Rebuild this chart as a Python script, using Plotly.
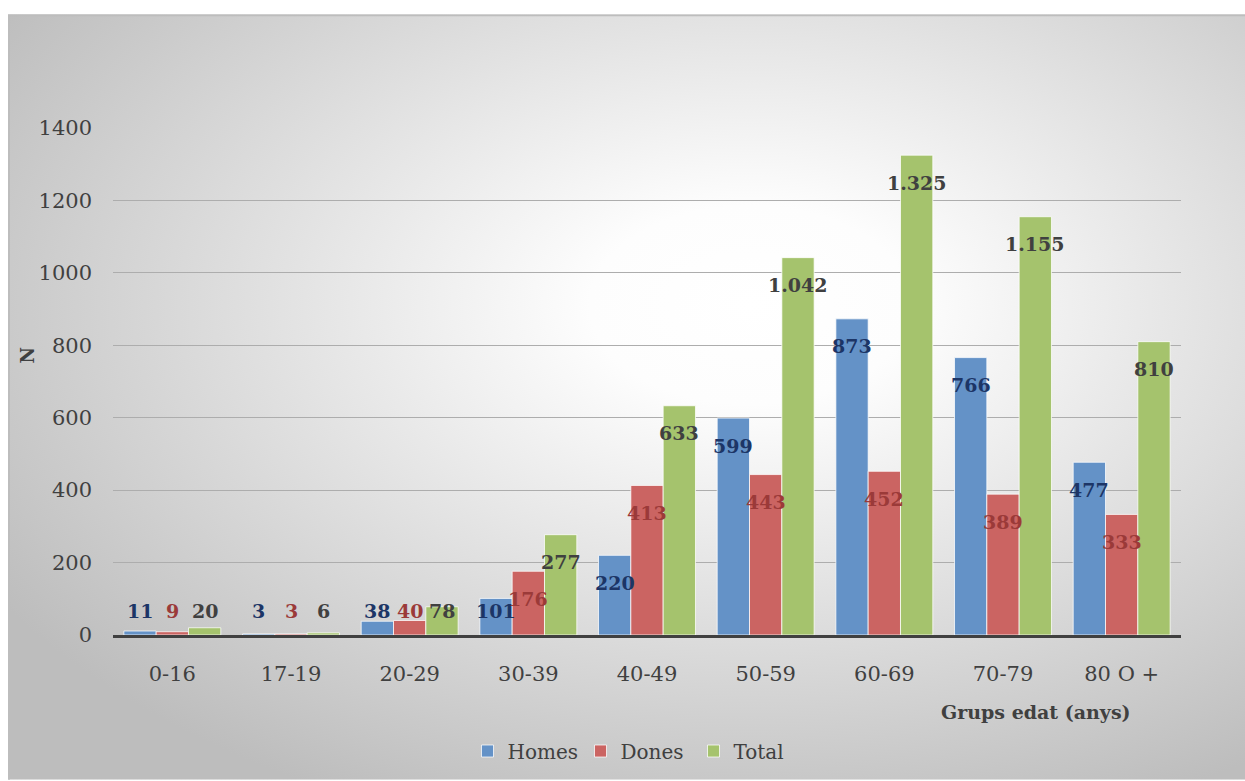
import base64
import plotly.graph_objects as go

# Age groups and counts
groups = ["0-16", "17-19", "20-29", "30-39", "40-49", "50-59", "60-69", "70-79", "80 O +"]
homes = [11, 3, 38, 101, 220, 599, 873, 766, 477]
dones = [9, 3, 40, 176, 413, 443, 452, 389, 333]
total = [20, 6, 78, 277, 633, 1042, 1325, 1155, 810]
series_names = ["Homes", "Dones", "Total"]
y_ticks = [0, 200, 400, 600, 800, 1000, 1200, 1400]

# Canvas geometry (pixels)
W, H = 1245, 781
ML, MR, MT, MB = 113, 64, 128, 145
PW, PH = W - ML - MR, H - MT - MB
Y_MAX = 1400
BARGAP = 0.183


def px_x(px):
    return (px - ML) / PW


def px_y(py):
    return (H - MB - py) / PH


bar_colors = ["#6492c7", "#cb6462", "#a5c36d"]
label_colors = ["#1c3566", "#9b3a39", "#404040"]
serif = "DejaVu Serif"

fig = go.Figure()
for name, vals, col in zip(series_names, [homes, dones, total], bar_colors):
    fig.add_trace(go.Bar(
        x=groups, y=vals, name=name,
        marker=dict(color=col, line=dict(color="rgba(255,255,255,0.75)", width=1)),
        hoverinfo="x+y+name",
    ))

# Value labels: inside the top of each bar, kept above the axis for short bars
scale = PH / Y_MAX
pitch = PW / len(groups) * (1 - BARGAP) / 3
annotations = []
for i, (vals, lc) in enumerate(zip([homes, dones, total], label_colors)):
    for g, v in zip(groups, vals):
        h = v * scale
        yshift = -27.5 if h - 27.5 >= 24 else 24 - h
        annotations.append(dict(
            x=g, y=v, xref="x", yref="y", text=f"{v:,}".replace(",", "."),
            showarrow=False, xshift=(i - 1) * pitch, yshift=yshift,
            xanchor="center", yanchor="middle",
            font=dict(family=serif, size=19, color=lc, weight="bold"),
        ))

annotations.append(dict(
    x=px_x(1133), y=px_y(713), xref="paper", yref="paper", text="Grups edat (anys)",
    showarrow=False, xanchor="right", yanchor="middle",
    font=dict(family=serif, size=19, color="#404040", weight="bold"),
))
annotations.append(dict(
    x=px_x(28), y=px_y(356), xref="paper", yref="paper", text="N", textangle=-90,
    showarrow=False, xanchor="center", yanchor="middle",
    font=dict(family=serif, size=18, color="#404040", weight="bold"),
))

# Radial grey-to-white chart background with a thin frame on top and left
fw, fh = W - 8, H - 14
svg = (
    f'<svg xmlns="http://www.w3.org/2000/svg" width="{fw}" height="{fh}" '
    f'viewBox="0 0 {fw} {fh}" preserveAspectRatio="none">'
    '<defs><radialGradient id="g" cx="0.6" cy="0.38" r="0.72">'
    '<stop offset="0" stop-color="#ffffff"/>'
    '<stop offset="0.18" stop-color="#fdfdfd"/>'
    '<stop offset="1" stop-color="#bdbdbd"/>'
    '</radialGradient></defs>'
    f'<rect width="{fw}" height="{fh}" fill="url(#g)"/>'
    f'<path d="M1,{fh} V1 H{fw}" stroke="#bdbdbd" stroke-width="2" fill="none"/>'
    '</svg>'
)
bg_src = "data:image/svg+xml;base64," + base64.b64encode(svg.encode()).decode()

fig.update_layout(
    width=W, height=H,
    margin=dict(l=ML, r=MR, t=MT, b=MB, pad=0),
    paper_bgcolor="white", plot_bgcolor="rgba(0,0,0,0)",
    barmode="group", bargap=BARGAP, bargroupgap=0,
    font=dict(family=serif, color="#404040"),
    images=[dict(
        source=bg_src, xref="paper", yref="paper",
        x=px_x(8), y=px_y(14), sizex=fw / PW, sizey=fh / PH,
        xanchor="left", yanchor="top", sizing="stretch", layer="below",
    )],
    annotations=annotations,
    showlegend=True,
    legend=dict(
        orientation="h", x=px_x(637), y=px_y(751), xanchor="center", yanchor="middle",
        font=dict(family=serif, size=20, color="#404040"),
        bgcolor="rgba(0,0,0,0)", itemwidth=30, traceorder="normal",
        entrywidth=68, entrywidthmode="pixels",
    ),
)
fig.update_xaxes(
    type="category", showgrid=False, showline=True, linecolor="#404040", linewidth=3,
    ticks="", tickfont=dict(family=serif, size=21, color="#404040"),
    ticklabelstandoff=18, zeroline=False,
)
fig.update_yaxes(
    range=[0, Y_MAX], tickvals=y_ticks, showgrid=True, gridcolor="#adadad", gridwidth=1,
    zeroline=False, showline=False, ticks="",
    tickfont=dict(family=serif, size=21, color="#404040"), ticklabelstandoff=20,
)

fig.write_html("out.html")
